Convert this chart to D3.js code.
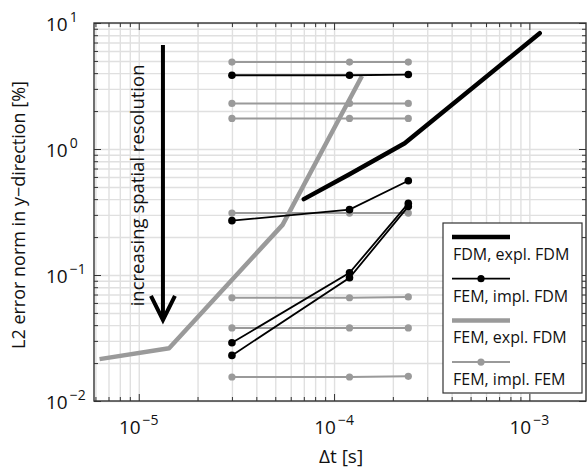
<!DOCTYPE html>
<html>
<head>
<meta charset="utf-8">
<script src="https://cdn.jsdelivr.net/npm/d3@7"></script>
<style>
  body { margin: 0; background: #fff; }
  text { font-family: "Open Sans", sans-serif; fill: #111; }
</style>
</head>
<body>
<script>
//time steps and error values
var dtImpl = [3e-5, 1.2e-4, 2.4e-4];

var femImplFem = [
    [4.9, 4.9, 4.9],
    [2.3, 2.3, 2.3],
    [1.75, 1.75, 1.75],
    [0.31, 0.31, 0.31],
    [0.066, 0.066, 0.067],
    [0.038, 0.038, 0.038],
    [0.0155, 0.0155, 0.0157]
];

var femImplFdm = [
    [3.85, 3.85, 3.9],
    [0.27, 0.33, 0.56],
    [0.029, 0.104, 0.37],
    [0.023, 0.095, 0.35]
];

var fdmExplDt = [7e-5, 1.2e-4, 2.3e-4, 1.13e-3],
    fdmExplErr = [0.40, 0.63, 1.11, 8.3];

var femExplDt = [6.3e-6, 1.43e-5, 5.45e-5, 1.39e-4],
    femExplErr = [0.0215, 0.0262, 0.25, 3.8];

var xMajor = [-5, -4, -3],
    yMajor = [-2, -1, 0, 1];

var legendLabels = ["FDM, expl. FDM", "FEM, impl. FDM", "FEM, expl. FDM", "FEM, impl. FEM"];

window.onload = drawChart();

function drawChart(){
    var width = 587,
        height = 470,
        margin = {top: 23, right: 1, bottom: 69, left: 94},
        w = width - margin.left - margin.right,
        h = height - margin.top - margin.bottom;

    var black = "#000",
        gray = "#9a9a9a";

    var svg = d3.select("body")
        .append("svg")
        .attr("width", width)
        .attr("height", height);

    var g = svg.append("g")
        .attr("transform", "translate(" + margin.left + "," + margin.top + ")");

    var x = d3.scaleLog().domain([5.9e-6, 1.95e-3]).range([0, w]),
        y = d3.scaleLog().domain([0.01, 10]).range([h, 0]);

    //grid lines at every decade step
    g.append("g")
        .attr("class", "grid")
        .attr("transform", "translate(0," + h + ")")
        .call(d3.axisBottom(x).tickValues(x.ticks()).tickSize(-h).tickFormat(""));
    g.append("g")
        .attr("class", "grid")
        .call(d3.axisLeft(y).tickValues(y.ticks()).tickSize(-w).tickFormat(""));
    g.selectAll(".grid line").attr("stroke", "#e0e0e0").attr("stroke-width", 1.4);
    g.selectAll(".grid .domain").remove();

    //inward ticks on all four sides
    var minorX = x.ticks().filter(function(d){ return xMajor.indexOf(Math.round(Math.log10(d) * 1000) / 1000) < 0; }),
        minorY = y.ticks().filter(function(d){ return yMajor.indexOf(Math.round(Math.log10(d) * 1000) / 1000) < 0; }),
        majX = xMajor.map(function(e){ return Math.pow(10, e); }),
        majY = yMajor.map(function(e){ return Math.pow(10, e); });

    function tickGroup(axis, vals, size, tr){
        var t = g.append("g").attr("class", "ticks")
            .attr("transform", tr)
            .call(axis.tickValues(vals).tickSize(size).tickFormat(""));
        t.select(".domain").remove();
    }
    tickGroup(d3.axisBottom(x), minorX, -4, "translate(0," + h + ")");
    tickGroup(d3.axisBottom(x), majX, -7, "translate(0," + h + ")");
    tickGroup(d3.axisTop(x), minorX, -4, "translate(0,0)");
    tickGroup(d3.axisTop(x), majX, -7, "translate(0,0)");
    tickGroup(d3.axisLeft(y), minorY, -4, "translate(0,0)");
    tickGroup(d3.axisLeft(y), majY, -7, "translate(0,0)");
    tickGroup(d3.axisRight(y), minorY, -4, "translate(" + w + ",0)");
    tickGroup(d3.axisRight(y), majY, -7, "translate(" + w + ",0)");
    g.selectAll(".ticks line").attr("stroke", "#333").attr("stroke-width", 1);

    var line = d3.line()
        .x(function(d){ return x(d[0]); })
        .y(function(d){ return y(d[1]); });

    //FEM, impl. FEM
    femImplFem.forEach(function(s){
        var pts = dtImpl.map(function(t, i){ return [t, s[i]]; });
        g.append("path").datum(pts)
            .attr("d", line).attr("fill", "none")
            .attr("stroke", gray).attr("stroke-width", 2);
        g.selectAll(null).data(pts).enter().append("circle")
            .attr("cx", function(d){ return x(d[0]); })
            .attr("cy", function(d){ return y(d[1]); })
            .attr("r", 3.6).attr("fill", gray);
    });

    //FEM, expl. FDM
    g.append("path")
        .datum(femExplDt.map(function(t, i){ return [t, femExplErr[i]]; }))
        .attr("d", line).attr("fill", "none")
        .attr("stroke", gray).attr("stroke-width", 4.5)
        .attr("stroke-linejoin", "round");

    //FDM, expl. FDM
    g.append("path")
        .datum(fdmExplDt.map(function(t, i){ return [t, fdmExplErr[i]]; }))
        .attr("d", line).attr("fill", "none")
        .attr("stroke", black).attr("stroke-width", 4.5)
        .attr("stroke-linejoin", "round").attr("stroke-linecap", "round");

    //FEM, impl. FDM
    femImplFdm.forEach(function(s){
        var pts = dtImpl.map(function(t, i){ return [t, s[i]]; });
        g.append("path").datum(pts)
            .attr("d", line).attr("fill", "none")
            .attr("stroke", black).attr("stroke-width", 1.8);
        g.selectAll(null).data(pts).enter().append("circle")
            .attr("cx", function(d){ return x(d[0]); })
            .attr("cy", function(d){ return y(d[1]); })
            .attr("r", 3.8).attr("fill", black);
    });

    //axis box
    g.append("rect")
        .attr("width", w).attr("height", h)
        .attr("fill", "none").attr("stroke", "#333").attr("stroke-width", 1.4);

    //tick labels as 10^n
    function powLabel(sel, e){
        sel.append("tspan").text("10");
        sel.append("tspan").attr("dy", -9).attr("dx", 2).attr("font-size", 14)
            .text(e < 0 ? "\u2212" + (-e) : String(e));
    }
    xMajor.forEach(function(e){
        var t = g.append("text")
            .attr("x", x(Math.pow(10, e)))
            .attr("y", h + 33)
            .attr("text-anchor", "middle")
            .attr("font-size", 19);
        powLabel(t, e);
    });
    yMajor.forEach(function(e){
        var t = g.append("text")
            .attr("x", -48)
            .attr("y", y(Math.pow(10, e)) + 8)
            .attr("font-size", 19);
        powLabel(t, e);
    });

    //axis titles
    svg.append("text")
        .attr("x", margin.left + x(1e-4) + 7)
        .attr("y", 463)
        .attr("text-anchor", "middle")
        .attr("font-size", 19)
        .text("\u0394t [s]");
    svg.append("text")
        .attr("transform", "translate(25," + 215 + ") rotate(-90)")
        .attr("text-anchor", "middle")
        .attr("font-size", 18)
        .text("L2 error norm in y\u2212direction [%]");

    //arrow annotation
    var ax = x(1.33e-5), aTop = y(6.7), aTip = y(0.044);
    g.append("line")
        .attr("x1", ax).attr("x2", ax)
        .attr("y1", aTop).attr("y2", aTip - 2)
        .attr("stroke", black).attr("stroke-width", 4);
    g.append("path")
        .attr("d", "M" + (ax - 12) + "," + (aTip - 24) + "L" + ax + "," + aTip + "L" + (ax + 12) + "," + (aTip - 24))
        .attr("fill", "none").attr("stroke", black).attr("stroke-width", 4)
        .attr("stroke-linejoin", "miter");
    g.append("text")
        .attr("transform", "translate(" + (ax - 19) + "," + ((aTop + aTip) / 2 + 3) + ") rotate(-90)")
        .attr("text-anchor", "middle")
        .attr("font-size", 18.5)
        .text("increasing spatial resolution");

    //legend
    var lg = svg.append("g").attr("transform", "translate(443,223)");
    lg.append("rect")
        .attr("width", 139).attr("height", 170)
        .attr("fill", "#fff").attr("stroke", "#333").attr("stroke-width", 1.2);
    var legStyle = [
        {c: black, sw: 4.5, m: false},
        {c: black, sw: 1.8, m: true},
        {c: gray, sw: 4.5, m: false},
        {c: gray, sw: 2, m: true}
    ];
    legendLabels.forEach(function(lab, i){
        var yy = 14 + i * 41.7;
        lg.append("line")
            .attr("x1", 9).attr("x2", 67)
            .attr("y1", yy).attr("y2", yy)
            .attr("stroke", legStyle[i].c).attr("stroke-width", legStyle[i].sw);
        if (legStyle[i].m) {
            lg.append("circle").attr("cx", 38).attr("cy", yy).attr("r", 3.6).attr("fill", legStyle[i].c);
        }
        lg.append("text")
            .attr("x", 10).attr("y", yy + 23)
            .attr("font-size", 16)
            .text(lab);
    });
}
</script>
</body>
</html>
